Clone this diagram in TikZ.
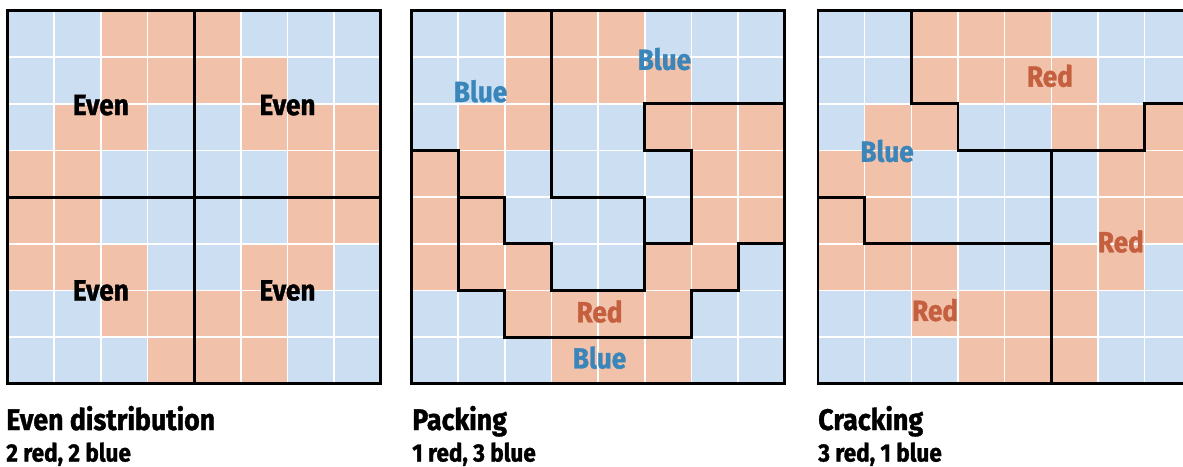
\documentclass[tikz,border=0pt]{standalone}
\usepackage{fontspec}
\setmainfont{Fira Sans}[FakeStretch=0.9, BoldFeatures={FakeBold=1.2}]
\definecolor{cellblue}{HTML}{CCDFF2}
\definecolor{cellred}{HTML}{F2C1AA}
\definecolor{txtblue}{HTML}{3A86BA}
\definecolor{txtred}{HTML}{C4603F}
\tikzset{
  lbl/.style={font=\fontsize{21.8}{24}\selectfont\bfseries, inner sep=0pt},
  gridline/.style={white, line width=1.2pt},
  border/.style={black, line width=2.2pt},
  district/.style={black, line width=2.2pt, line cap=rect, line join=miter},
  titletext/.style={anchor=base west, inner sep=0pt, font=\fontsize{22.3}{24}\selectfont\bfseries},
  subtext/.style={anchor=base west, inner sep=0pt, font=\fontsize{18.8}{20}\selectfont\bfseries},
  cellunits/.style={x=35pt, y=-35pt}
}
\newcommand\cellpattern{%
  \foreach \rowlist [count=\ri from 0] in {{0,0,1,1,1,0,0,0},{0,0,1,1,1,1,0,0},{0,1,1,0,0,1,1,1},{1,1,0,0,0,0,1,1},{1,1,0,0,0,0,1,1},{1,1,1,0,0,1,1,0},{0,0,1,1,1,1,0,0},{0,0,0,1,1,1,0,0}}{%
    \foreach \v [count=\ci from 0] in \rowlist {%
      \ifnum\v=1 \def\cc{cellred}\else\def\cc{cellblue}\fi
      \fill[\cc] (\ci,\ri) rectangle ++(1,1);
    }%
  }%
  \foreach \i in {1,...,7} {%
    \draw[gridline] (\i,0) -- (\i,8);
    \draw[gridline] (0,\i) -- (8,\i);
  }%
}
\begin{document}
\begin{tikzpicture}[x=0.75pt, y=-0.75pt]
\useasboundingbox (0,0) rectangle (1183,467);
\clip (0,0) rectangle (1183,467);
\fill[white] (0,0) rectangle (1183,467);

% Grid 1: even distribution
\begin{scope}[shift={(7.5,10.5)}, cellunits]
  \cellpattern
  \draw[district] (4,0) -- (4,8);
  \draw[district] (0,4) -- (8,4);
  \draw[border] (0,0) rectangle (8,8);
  \node[lbl] (e1) at (2,2.03) {Even};
  \node[lbl] (e2) at (6,2.03) {Even};
  \node[lbl] (e3) at (2,6.0) {Even};
  \node[lbl] (e4) at (6,6.0) {Even};
\end{scope}

% Grid 2: packing
\begin{scope}[shift={(411.5,10.5)}, cellunits]
  \cellpattern
  \draw[district] (3,0) -- (3,4) -- (5,4) -- (5,6) -- (3,6) -- (3,5) -- (2,5) -- (2,4) -- (1,4) -- (1,6) -- (2,6) -- (2,7) -- (6,7) -- (6,6) -- (7,6) -- (7,5) -- (8,5);
  \draw[district] (0,3) -- (1,3) -- (1,4);
  \draw[district] (8,2) -- (5,2) -- (5,3) -- (6,3) -- (6,5) -- (5,5);
  \draw[border] (0,0) rectangle (8,8);
  \node[lbl, txtblue] (p1) at (1.48,1.73) {Blue};
  \node[lbl, txtblue] (p2) at (5.42,1.04) {Blue};
  \node[lbl, txtred] (p3) at (4.03,6.45) {Red};
  \node[lbl, txtblue] (p4) at (4.03,7.44) {Blue};
\end{scope}

% Grid 3: cracking
\begin{scope}[shift={(818,10.5)}, cellunits]
  \cellpattern
  \draw[district] (2,0) -- (2,2) -- (3,2) -- (3,3) -- (7,3) -- (7,2) -- (8,2);
  \draw[district] (5,3) -- (5,8);
  \draw[district] (0,4) -- (1,4) -- (1,5) -- (5,5);
  \draw[border] (0,0) rectangle (8,8);
  \node[lbl, txtred] (c1) at (4.97,1.40) {Red};
  \node[lbl, txtblue] (c2) at (1.48,3.01) {Blue};
  \node[lbl, txtred] (c3) at (6.49,4.95) {Red};
  \node[lbl, txtred] (c4) at (2.51,6.42) {Red};
\end{scope}

% Captions
\node[titletext] (t1) at (6,430) {Even distribution};
\node[subtext] (s1) at (6,461.5) {2 red, 2 blue};
\node[titletext] (t2) at (412,430) {Packing};
\node[subtext] (s2) at (412,461.5) {1 red, 3 blue};
\node[titletext] (t3) at (818,430) {Cracking};
\node[subtext] (s3) at (818,461.5) {3 red, 1 blue};
\end{tikzpicture}
\end{document}
